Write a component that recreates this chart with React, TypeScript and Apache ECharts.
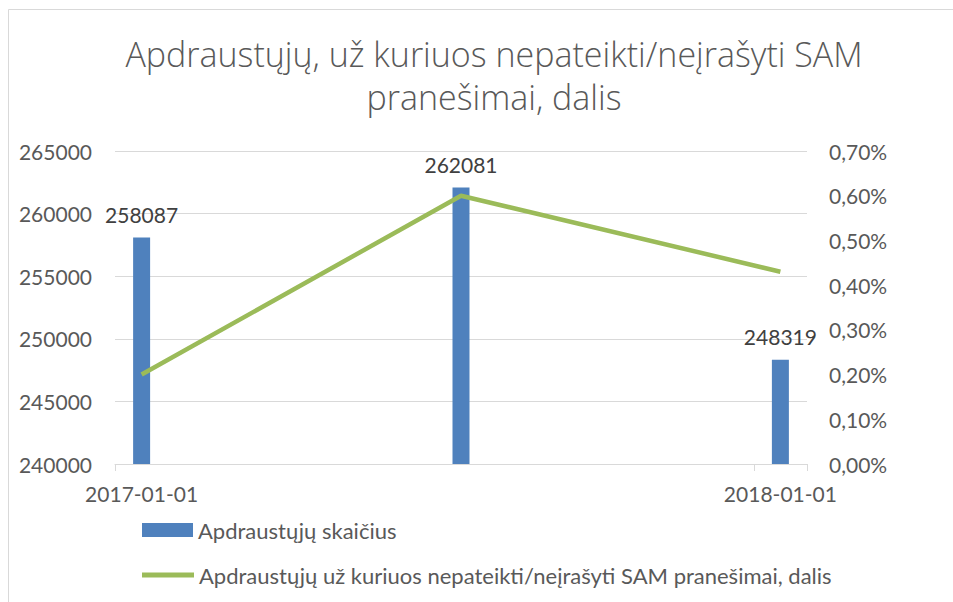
import React, { useEffect, useRef } from "react";
import * as echarts from "echarts";

const months = [
  "2017-01-01", "2017-02-01", "2017-03-01", "2017-04-01", "2017-05-01", "2017-06-01",
  "2017-07-01", "2017-08-01", "2017-09-01", "2017-10-01", "2017-11-01", "2017-12-01",
  "2018-01-01",
];
const insuredCount: (number | null)[] = [
  258087, null, null, null, null, null, 262081, null, null, null, null, null, 248319,
];
const sharePercent: (number | null)[] = [
  0.2, null, null, null, null, null, 0.6, null, null, null, null, null, 0.43,
];
const barName = "Apdraustųjų skaičius";
const lineName = "Apdraustųjų už kuriuos nepateikti/neįrašyti SAM pranešimai, dalis";
const titleText = "Apdraustųjų, už kuriuos nepateikti/neįrašyti SAM\npranešimai, dalis";

const FONT = "Lato, 'Open Sans', sans-serif";
const TITLE_FONT = "'Open Sans', Lato, sans-serif";
const TEXT_COLOR = "#595959";

export default function App() {
  const ref = useRef<HTMLDivElement>(null);
  useEffect(() => {
    if (!ref.current) return;
    const chart = echarts.init(ref.current, undefined, { renderer: "svg" });
    chart.setOption({
      animation: false,
      backgroundColor: "#ffffff",
      textStyle: { fontFamily: FONT },
      title: {
        text: titleText,
        left: 489,
        textAlign: "center",
        top: 27,
        textStyle: {
          fontFamily: TITLE_FONT,
          fontSize: 34,
          fontWeight: 300,
          color: TEXT_COLOR,
          lineHeight: 43,
        },
      },
      graphic: [
        {
          type: "rect",
          shape: { x: 8.5, y: 9.5, width: 1200, height: 1200 },
          style: { fill: "none", stroke: "#d9d9d9", lineWidth: 1 },
          silent: true,
        },
      ],
      legend: [
        {
          orient: "vertical",
          left: 142,
          top: 518,
          padding: 0,
          itemWidth: 51,
          itemHeight: 14,
          textStyle: { fontFamily: FONT, fontSize: 22, color: TEXT_COLOR, lineHeight: 24 },
          data: [{ name: barName, icon: "rect" }],
        },
        {
          orient: "vertical",
          left: 142,
          top: 563,
          padding: 0,
          itemWidth: 52,
          itemHeight: 5,
          textStyle: { fontFamily: FONT, fontSize: 22, color: TEXT_COLOR, lineHeight: 24 },
          data: [{ name: lineName, icon: "rect" }],
        },
      ],
      grid: { left: 115, right: 146, top: 151, bottom: 138, containLabel: false },
      xAxis: {
        type: "category",
        data: months,
        boundaryGap: true,
        axisLine: { show: true, lineStyle: { color: "#d9d9d9", width: 1 } },
        axisTick: { show: true, interval: 11, length: 7, lineStyle: { color: "#d9d9d9" } },
        axisLabel: {
          interval: 11,
          margin: 19,
          fontFamily: FONT,
          fontSize: 21,
          color: TEXT_COLOR,
        },
        splitLine: { show: false },
      },
      yAxis: [
        {
          type: "value",
          min: 240000,
          max: 265000,
          interval: 5000,
          axisLine: { show: false },
          axisTick: { show: false },
          axisLabel: {
            margin: 23,
            fontFamily: FONT,
            fontSize: 21,
            color: TEXT_COLOR,
            formatter: (v: number) => String(v),
          },
          splitLine: { show: true, lineStyle: { color: "#d9d9d9", width: 1 } },
        },
        {
          type: "value",
          min: 0,
          max: 0.7,
          interval: 0.1,
          position: "right",
          axisLine: { show: false },
          axisTick: { show: false },
          axisLabel: {
            margin: 22,
            fontFamily: FONT,
            fontSize: 21,
            color: TEXT_COLOR,
            formatter: (v: number) => v.toFixed(2).replace(".", ",") + "%",
          },
          splitLine: { show: false },
        },
      ],
      series: [
        {
          name: barName,
          type: "bar",
          data: insuredCount,
          barWidth: 17,
          itemStyle: { color: "#4F81BD" },
          label: {
            show: true,
            position: "top",
            distance: 13,
            fontFamily: FONT,
            fontSize: 21,
            color: "#404040",
          },
        },
        {
          name: lineName,
          type: "line",
          yAxisIndex: 1,
          data: sharePercent,
          connectNulls: true,
          symbol: "none",
          lineStyle: { color: "#9BBB59", width: 4.5 },
          itemStyle: { color: "#9BBB59" },
        },
      ],
    });
    return () => chart.dispose();
  }, []);
  return (
    <div
      style={{ position: "fixed", left: 0, top: 0, width: 953, height: 602, overflow: "hidden", background: "#fff" }}
    >
      <div ref={ref} style={{ width: 953, height: 602 }} />
    </div>
  );
}
